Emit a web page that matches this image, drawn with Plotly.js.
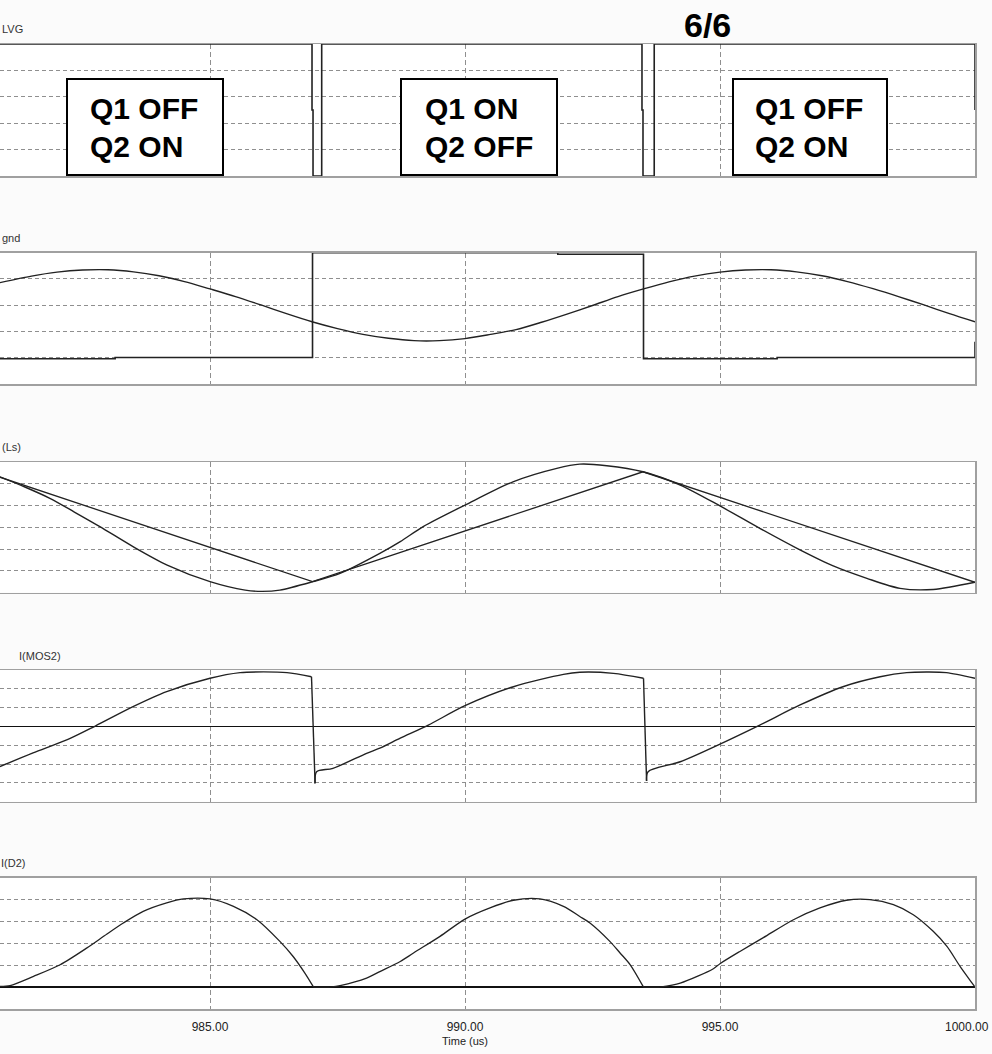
<!DOCTYPE html>
<html>
<head>
<meta charset="utf-8">
<script src="https://cdn.plot.ly/plotly-3.0.1.min.js"></script>
<style>
  html, body { margin: 0; padding: 0; background: #fbfbfb; }
  #chart { width: 992px; height: 1054px; }
</style>
</head>
<body>
<div id="chart"></div>
<script>
// ---- waveform data (time in us) ----

// gate drive LVG
const lvgTime  = [980.88, 987.00, 987.00, 987.02, 987.02, 987.19, 987.19, 993.47, 993.47, 993.49, 993.49, 993.71, 993.71, 1000.0, 1000.0];
const lvgValue = [5, 5, 2.5, 2.5, 0, 0, 5, 5, 2.5, 2.5, 0, 0, 5, 5, 2.5];

// half-bridge midpoint voltage to gnd
const bridgeTime  = [980.88, 983.14, 983.14, 987.01, 987.01, 991.82, 991.82, 993.50, 993.50, 996.12, 996.12, 1000.0, 1000.0];
const bridgeValue = [-4, -4, 1, 1, 400, 400, 394, 394, -4, -4, 1, 1, 61];

// resonant capacitor voltage
const crTime  = [980.88, 981.5, 982.0, 982.5, 983.0, 983.5, 984.0, 984.5, 985.0, 985.5, 986.0, 986.5, 987.0,
                 987.5, 988.0, 988.5, 989.0, 989.5, 990.0, 990.5, 991.0, 991.5, 992.0, 992.5, 993.0, 993.5,
                 994.0, 994.5, 995.0, 995.5, 996.0, 996.5, 997.0, 997.5, 998.0, 998.5, 999.0, 999.5, 1000.0];
const crValue = [286, 311, 326, 334, 335, 327, 312, 290, 262, 233, 201, 168, 137,
                 111, 89, 74, 65, 65, 73, 89, 107, 135, 166, 199, 233, 262,
                 289, 311, 326, 334, 335, 327, 312, 290, 263, 233, 201, 168, 137];

// resonant inductor current I(Ls)
const lsTime  = [980.88, 981.37, 981.86, 982.34, 982.84, 983.49, 984.16, 985.00, 985.69, 986.02, 986.37, 987.02,
                 987.55, 988.33, 988.73, 989.18, 990.00, 990.94, 991.80, 992.25, 992.78, 993.49,
                 994.22, 995.00, 995.78, 996.51, 997.22, 997.88, 998.53, 999.18, 1000.0];
const lsValue = [2.32, 1.85, 1.33, 0.70, 0.03, -0.89, -1.74, -2.50, -2.89, -2.95, -2.89, -2.50,
                 -2.12, -1.20, -0.66, 0.03, 1.02, 2.09, 2.71, 2.90, 2.83, 2.55,
                 1.94, 0.98, -0.05, -0.97, -1.78, -2.35, -2.81, -2.86, -2.53];

// magnetizing current (triangle)
const lmTime  = [980.88, 987.01, 993.49, 1000.0];
const lmValue = [2.30, -2.50, 2.55, -2.53];

// switch current I(MOS2)
const mosTime  = [980.88, 981.53, 982.19, 982.75, 983.49, 984.15, 985.00, 985.59, 986.05, 986.51, 986.99,
                  987.06, 987.09, 987.41, 988.07, 988.33, 988.73, 989.28, 990.00, 990.95, 991.93, 992.25, 992.91, 993.50,
                  993.56, 993.59, 994.22, 995.00, 995.78, 996.57, 997.41, 998.14, 998.66, 999.05, 999.44, 1000.0];
const mosValue = [-2.14, -1.41, -0.72, 0.02, 1.05, 1.85, 2.56, 2.86, 2.90, 2.86, 2.64,
                  -3.03, -2.41, -2.23, -1.43, -1.16, -0.63, 0.07, 1.10, 2.11, 2.77, 2.88, 2.82, 2.56,
                  -2.90, -2.41, -1.88, -0.94, 0.07, 1.14, 2.11, 2.64, 2.86, 2.89, 2.86, 2.56];

// rectifier diode current I(D2)
const d2Time  = [980.88, 981.08, 981.54, 982.06, 982.58, 982.98, 983.30, 983.69, 984.15, 984.48, 985.00,
                 985.46, 985.92, 986.37, 986.63, 986.86, 987.03, 987.35,
                 987.55, 988.07, 988.33, 988.73, 988.99, 989.51, 990.00, 990.49, 990.95, 991.47, 991.93,
                 992.25, 992.45, 992.84, 993.04, 993.24, 993.50, 993.82,
                 994.22, 994.87, 995.00, 995.39, 995.85, 996.44, 996.96, 997.48, 997.94, 998.40,
                 998.79, 999.18, 999.45, 999.71, 999.97, 1000.0];
const d2Value = [0.03, 0.07, 0.49, 1.02, 1.78, 2.43, 2.93, 3.46, 3.85, 4.03, 4.03,
                 3.69, 3.08, 2.09, 1.40, 0.64, 0.0, 0.0,
                 0.07, 0.41, 0.71, 1.17, 1.56, 2.32, 3.11, 3.62, 3.97, 4.03, 3.69,
                 3.23, 2.93, 2.09, 1.56, 1.02, 0.0, 0.0,
                 0.18, 0.84, 1.07, 1.63, 2.26, 3.08, 3.62, 3.97, 4.00, 3.77,
                 3.31, 2.55, 1.86, 0.94, 0.10, 0.0];

// text
const panelLabels = ['LVG', 'gnd', '(Ls)', 'I(MOS2)', 'I(D2)'];
const tickVals = [985, 990, 995, 1000];
const tickText = ['985.00', '990.00', '995.00', '1000.00'];
const stateLines = [['Q1 OFF', 'Q2 ON'], ['Q1 ON', 'Q2 OFF'], ['Q1 OFF', 'Q2 ON']];
const pageTag = '6/6';
const timeTitle = 'Time (us)';

// ---- layout helpers (pixel -> paper) ----
const H = 1054, PLOT_W = 975;
const fx = px => px / PLOT_W;
const fy = py => 1 - py / H;

const TIME_RANGE = [980.882, 1000];
const INK = '#222222';
const FRAME = '#a0a0a0';
const GRID = '#8f8f8f';
const FONT = 'Liberation Sans, Arial, sans-serif';
const TICK_FONT = { family: FONT, size: 12, color: '#222' };

const panels = [
  { top: 44,    bot: 176,    range: [0, 5],      dtick: 1,   zero: false },
  { top: 252.7, bot: 384,    range: [-100, 400], dtick: 100, zero: false },
  { top: 462,   bot: 592.5,  range: [-3, 3],     dtick: 1,   zero: false },
  { top: 670,   bot: 801.6,  range: [-4, 3],     dtick: 1,   zero: true  },
  { top: 877.7, bot: 1009,   range: [-1, 5],     dtick: 1,   zero: true  }
];

const labelPos = [[0, 29], [0, 238], [0, 447], [17, 656], [-1, 863]];

const layout = {
  width: 992, height: 1054,
  margin: { l: 0, r: 17, t: 0, b: 0, pad: 0 },
  paper_bgcolor: '#fbfbfb',
  plot_bgcolor: '#ffffff',
  showlegend: false,
  hovermode: false,
  font: { family: FONT, color: '#222' },
  annotations: [],
  shapes: []
};

// the last tick label sits at the right page edge, so it is right-aligned separately
const axisTickText = tickText.map((s, k) => (k === tickText.length - 1 ? '' : s));

panels.forEach((p, i) => {
  const n = i + 1;
  const last = i === panels.length - 1;
  layout['xaxis' + n] = {
    domain: [0, 1],
    anchor: 'y' + n,
    range: TIME_RANGE,
    tickmode: 'array',
    tickvals: tickVals,
    ticktext: axisTickText,
    showticklabels: last,
    ticks: '',
    ticklabelstandoff: 6,
    tickfont: TICK_FONT,
    showgrid: true,
    gridcolor: GRID,
    gridwidth: 1,
    griddash: '5px,3px',
    zeroline: false,
    showline: true,
    mirror: true,
    linecolor: FRAME,
    linewidth: 1.5,
    fixedrange: true
  };
  layout['yaxis' + n] = {
    domain: [fy(p.bot), fy(p.top)],
    anchor: 'x' + n,
    side: 'right',
    range: p.range,
    tickmode: 'linear',
    tick0: p.range[0],
    dtick: p.dtick,
    showticklabels: false,
    ticks: '',
    showgrid: true,
    gridcolor: GRID,
    gridwidth: 1,
    griddash: '4px,3px',
    zeroline: p.zero,
    zerolinecolor: '#111',
    zerolinewidth: 1.5,
    showline: true,
    mirror: false,
    linecolor: FRAME,
    linewidth: 1.5,
    fixedrange: true
  };
  layout.annotations.push({
    xref: 'paper', yref: 'paper',
    x: fx(labelPos[i][0]), y: fy(labelPos[i][1]),
    xanchor: 'left', yanchor: 'middle',
    text: panelLabels[i], showarrow: false,
    font: { family: FONT, size: 11, color: '#333' }
  });
});

layout.annotations.push({
  xref: 'paper', yref: 'paper', x: fx(991.5), y: fy(1027),
  xanchor: 'right', yanchor: 'middle',
  text: tickText[tickText.length - 1], showarrow: false,
  font: TICK_FONT
});

// state boxes in the gate-drive panel
const boxes = [
  { x0: 67,  x1: 223, tx: 88 },
  { x0: 401, x1: 557, tx: 423 },
  { x0: 733, x1: 887, tx: 753 }
];
boxes.forEach((b, i) => {
  layout.shapes.push({
    type: 'rect', xref: 'paper', yref: 'paper',
    x0: fx(b.x0), x1: fx(b.x1), y0: fy(175), y1: fy(79),
    line: { color: '#000', width: 2 }, fillcolor: '#ffffff', layer: 'above'
  });
  [109, 146.5].forEach((cy, k) => {
    layout.annotations.push({
      xref: 'paper', yref: 'paper',
      x: fx(b.tx), y: fy(cy), xanchor: 'left', yanchor: 'middle',
      text: '<b>' + stateLines[i][k] + '</b>', showarrow: false,
      font: { family: FONT, size: 30, color: '#000' }
    });
  });
});

layout.annotations.push({
  xref: 'paper', yref: 'paper', x: fx(707.5), y: fy(25),
  xanchor: 'center', yanchor: 'middle',
  text: '<b>' + pageTag + '</b>', showarrow: false,
  font: { family: FONT, size: 34, color: '#000' }
});

layout.annotations.push({
  xref: 'x5', yref: 'paper', x: 990, y: fy(1041),
  xanchor: 'center', yanchor: 'middle',
  text: timeTitle, showarrow: false,
  font: { family: FONT, size: 11, color: '#222' }
});

// Split a series into smooth pieces; switching edges (breakAt) are drawn as straight segments.
function piecewise(t, v, xa, ya, width, breakAt, smoothing) {
  const out = [];
  let start = 0;
  const flush = (end) => {
    if (end > start) {
      out.push({ x: t.slice(start, end + 1), y: v.slice(start, end + 1), xaxis: xa, yaxis: ya,
                 line: { color: INK, width: width, shape: 'spline', smoothing: smoothing } });
    }
  };
  for (let i = 0; i < t.length - 1; i++) {
    if (breakAt(i)) {
      flush(i);
      out.push({ x: [t[i], t[i + 1]], y: [v[i], v[i + 1]], xaxis: xa, yaxis: ya,
                 line: { color: INK, width: width } });
      start = i + 1;
    }
  }
  flush(t.length - 1);
  return out;
}

const mosTraces = piecewise(mosTime, mosValue, 'x4', 'y4', 1.4,
  i => Math.abs(mosValue[i + 1] - mosValue[i]) > 2 && (mosTime[i + 1] - mosTime[i]) < 0.1, 0.8);
const d2Traces = piecewise(d2Time, d2Value, 'x5', 'y5', 1.3,
  i => d2Value[i] === 0 && d2Value[i + 1] === 0, 0.8);

const traces = [
  { x: lvgTime,    y: lvgValue,    xaxis: 'x1', yaxis: 'y1', line: { color: INK, width: 1.6 } },
  { x: crTime,     y: crValue,     xaxis: 'x2', yaxis: 'y2', line: { color: INK, width: 1.4, shape: 'spline', smoothing: 0.8 } },
  { x: bridgeTime, y: bridgeValue, xaxis: 'x2', yaxis: 'y2', line: { color: INK, width: 1.6 } },
  { x: lmTime,     y: lmValue,     xaxis: 'x3', yaxis: 'y3', line: { color: INK, width: 1.3 } },
  { x: lsTime,     y: lsValue,     xaxis: 'x3', yaxis: 'y3', line: { color: INK, width: 1.4, shape: 'spline', smoothing: 0.8 } },
  ...mosTraces,
  ...d2Traces
].map(t => Object.assign({ type: 'scatter', mode: 'lines', hoverinfo: 'skip' }, t));

Plotly.newPlot('chart', traces, layout, { staticPlot: true, displayModeBar: false });
</script>
</body>
</html>
